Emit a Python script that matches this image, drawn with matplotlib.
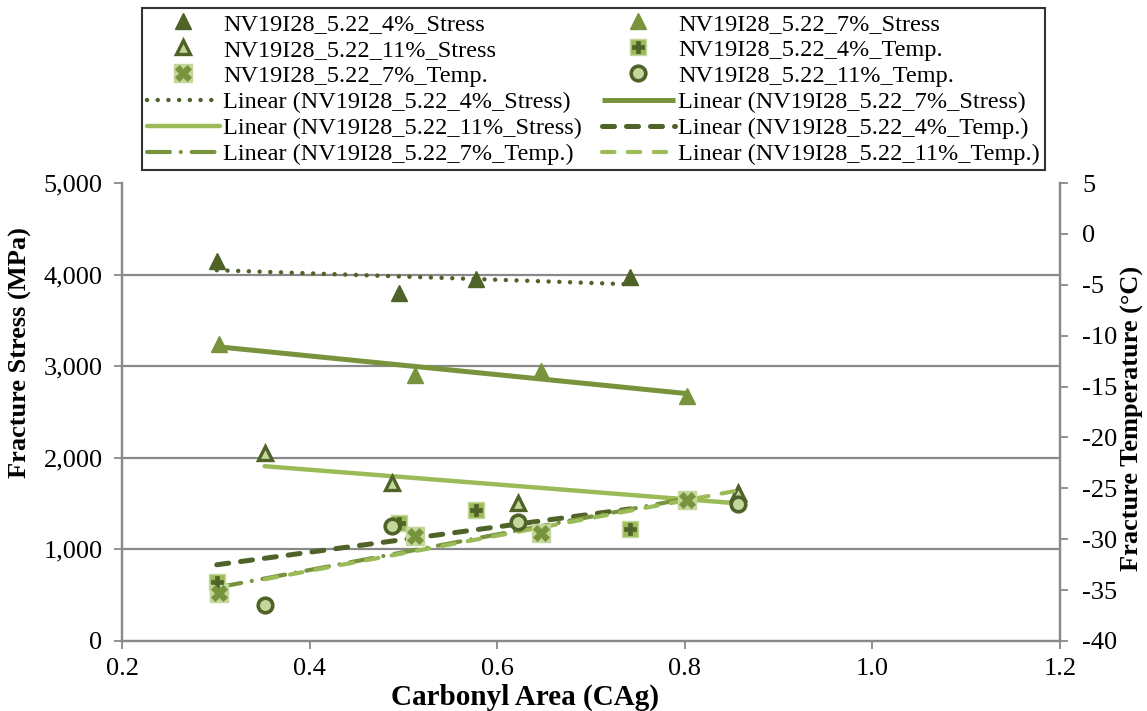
import numpy as np
import matplotlib
matplotlib.use("Agg")
import matplotlib.pyplot as plt
from matplotlib.ticker import FuncFormatter

plt.rcParams["font.family"] = ["Liberation Serif", "DejaVu Serif"]

# ---- data -------------------------------------------------------------
x_4 = [0.301, 0.495, 0.577, 0.742]
x_7 = [0.303, 0.512, 0.647, 0.802]
x_11 = [0.352, 0.488, 0.622, 0.857]

stress_4 = [4150, 3800, 3950, 3975]
stress_7 = [3240, 2900, 2950, 2680]
stress_11 = [2050, 1720, 1510, 1620]

temp_4 = [-34.2, -28.4, -27.1, -29.0]
temp_7 = [-35.3, -29.7, -29.4, -26.1]
temp_11 = [-36.5, -28.7, -28.3, -26.5]

series_names = ["NV19I28_5.22_4%", "NV19I28_5.22_7%", "NV19I28_5.22_11%"]
x_ticks = [0.2, 0.4, 0.6, 0.8, 1.0, 1.2]
stress_ticks = [0, 1000, 2000, 3000, 4000, 5000]
temp_ticks = [-40, -35, -30, -25, -20, -15, -10, -5, 0, 5]

# ---- colours ----------------------------------------------------------
DARK = "#4F6228"
MID = "#77933C"
LIGHT = "#9BBB59"
PALE = "#C3D69B"
AXIS = "#898989"

fig = plt.figure(figsize=(11.47, 7.11), dpi=100)
ax = fig.add_axes([0.1064, 0.0985, 0.8177, 0.6441])
ax2 = ax.twinx()


def trend(x, y):
    k, b = np.polyfit(x, y, 1)
    xs = np.array([min(x), max(x)])
    return xs, k * xs + b


# ---- stress (left axis) ------------------------------------------------
h_s4, = ax.plot(x_4, stress_4, ls="none", marker="^", ms=12,
                mfc=DARK, mec=DARK, zorder=4)
h_s7, = ax.plot(x_7, stress_7, ls="none", marker="^", ms=12,
                mfc=MID, mec=MID, zorder=4)
h_s11, = ax.plot(x_11, stress_11, ls="none", marker="^", ms=10.5,
                 mfc=PALE, mec=DARK, mew=2.4, zorder=4)

xs, ys = trend(x_4, stress_4)
t_s4, = ax.plot(xs, ys, color=DARK, lw=3.2, ls=(0, (0.01, 2.4)),
                dash_capstyle="round", zorder=3)
xs, ys = trend(x_7, stress_7)
t_s7, = ax.plot(xs, ys, color=MID, lw=3.6, solid_capstyle="butt", zorder=3)
xs, ys = trend(x_11, stress_11)
t_s11, = ax.plot(xs, ys, color=LIGHT, lw=3.2, solid_capstyle="round", zorder=3)

# ---- temperature (right axis) -----------------------------------------
h_t4a, = ax2.plot(x_4, temp_4, ls="none", marker="s", ms=11,
                  mfc=LIGHT, mec=PALE, mew=1, zorder=4)
h_t4b, = ax2.plot(x_4, temp_4, ls="none", marker="P", ms=9,
                  mfc=DARK, mec=DARK, mew=0.5, zorder=5)
h_t7a, = ax2.plot(x_7, temp_7, ls="none", marker="s", ms=13.5,
                  mfc=PALE, mec=PALE, mew=1, zorder=4)
h_t7b, = ax2.plot(x_7, temp_7, ls="none", marker="X", ms=12,
                  mfc=MID, mec=MID, mew=0.5, zorder=5)
h_t11, = ax2.plot(x_11, temp_11, ls="none", marker="o", ms=10.5,
                  mfc=PALE, mec=DARK, mew=2.6, zorder=5)

xs, ys = trend(x_4, temp_4)
t_t4, = ax2.plot(xs, ys, color=DARK, lw=3.6, ls=(0, (2.4, 2.4)),
                 dash_capstyle="round", zorder=3)
xs, ys = trend(x_7, temp_7)
t_t7, = ax2.plot(xs, ys, color=MID, lw=3.0, ls=(0, (5.5, 2.6, 0.01, 2.6)),
                 dash_capstyle="round", zorder=3)
xs, ys = trend(x_11, temp_11)
t_t11, = ax2.plot(xs, ys, color=LIGHT, lw=3.0, ls=(0, (3.0, 3.2)),
                  dash_capstyle="round", zorder=3)

# ---- axes ---------------------------------------------------------------
ax.set_xlim(x_ticks[0], x_ticks[-1])
ax.set_ylim(stress_ticks[0], stress_ticks[-1])
ax2.set_ylim(temp_ticks[0], temp_ticks[-1])
ax.set_xticks(x_ticks)
ax.set_yticks(stress_ticks)
ax2.set_yticks(temp_ticks)
ax.xaxis.set_major_formatter(FuncFormatter(lambda v, p: f"{v:.1f}"))
ax.yaxis.set_major_formatter(FuncFormatter(lambda v, p: f"{v:,.0f}"))
ax2.yaxis.set_major_formatter(FuncFormatter(lambda v, p: f"{v:.0f}"))

ax.yaxis.grid(True, color=AXIS, lw=1.6)
ax.set_axisbelow(True)
ax.get_ygridlines()[-1].set_visible(False)
ax.get_ygridlines()[0].set_visible(False)

for a in (ax, ax2):
    a.spines["top"].set_visible(False)
    for s in ("left", "right", "bottom"):
        a.spines[s].set_color(AXIS)
        a.spines[s].set_linewidth(1.6)
    a.tick_params(colors=AXIS, labelcolor="black", labelsize=19,
                  width=1.3, length=6, direction="out")
ax.tick_params(axis="y", pad=8)
ax.tick_params(axis="x", pad=6)
ax2.tick_params(axis="y", pad=10)

ax.set_xlabel("Carbonyl Area (CAg)", fontsize=21, fontweight="bold")
ax.set_ylabel("Fracture Stress (MPa)", fontsize=19, fontweight="bold")
ax2.set_ylabel("Fracture Temperature (°C)", fontsize=19, fontweight="bold")
ax.xaxis.set_label_coords(0.43, -0.122)
ax.xaxis.label.set_va("center")
ax.yaxis.set_label_coords(-0.1087, 0.629)
ax.yaxis.label.set_va("center")
ax2.yaxis.set_label_coords(1.0778, 0.487)
ax2.yaxis.label.set_va("center")

# ---- legend -------------------------------------------------------------
handles = [h_s4, h_s7, h_s11, (h_t4a, h_t4b), (h_t7a, h_t7b), h_t11,
           t_s4, t_s7, t_s11, t_t4, t_t7, t_t11]
labels = [f"{series_names[0]}_Stress", f"{series_names[1]}_Stress",
          f"{series_names[2]}_Stress", f"{series_names[0]}_Temp.",
          f"{series_names[1]}_Temp.", f"{series_names[2]}_Temp.",
          f"Linear ({series_names[0]}_Stress)", f"Linear ({series_names[1]}_Stress)",
          f"Linear ({series_names[2]}_Stress)", f"Linear ({series_names[0]}_Temp.)",
          f"Linear ({series_names[1]}_Temp.)", f"Linear ({series_names[2]}_Temp.)"]
# two columns filled row by row
handles = handles[0::2] + handles[1::2]
labels = labels[0::2] + labels[1::2]

leg = fig.legend(handles, labels, ncol=2, loc="upper center",
                 bbox_to_anchor=(0.5174, 0.989), fontsize=17.5,
                 frameon=True, fancybox=False, edgecolor="black",
                 handlelength=3.0, handletextpad=0.15, columnspacing=0.8,
                 labelspacing=0.17, borderpad=0.2, borderaxespad=0.0,
                 numpoints=1)
leg.get_frame().set_linewidth(1.5)

fig.savefig("out.png", dpi=100)
